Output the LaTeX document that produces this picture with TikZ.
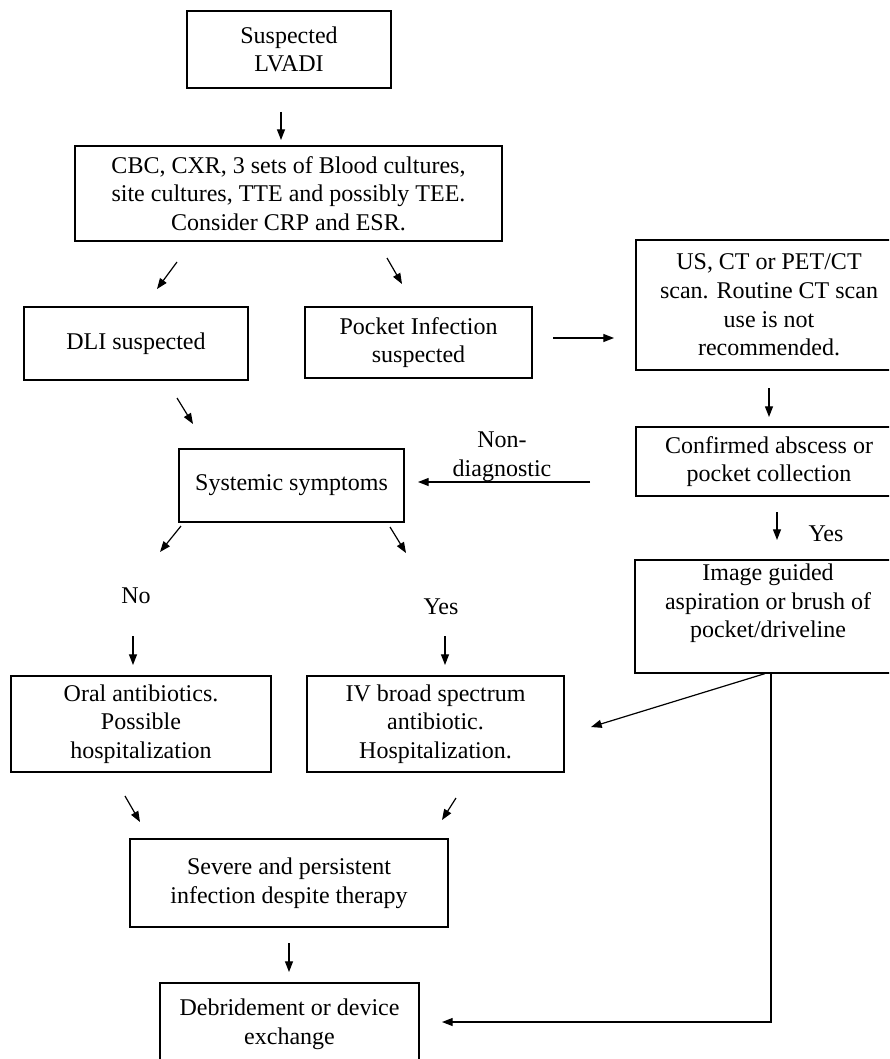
\documentclass[tikz,border=0pt]{standalone}
\usepackage{fontspec}
\setmainfont{Liberation Serif}
\usetikzlibrary{arrows.meta}

\tikzset{every picture/.style={line width=0.9pt}}
\tikzset{
  box/.style={draw, align=center, inner sep=0pt, font=\fontsize{18}{21.5}\selectfont},
  lbl/.style={align=center, inner sep=0pt, font=\fontsize{18}{21.5}\selectfont},
  arr/.style={-{Triangle[length=8pt,width=6pt]}},
}

\begin{document}
\begin{tikzpicture}[x=0.75pt,y=0.75pt,yscale=-1,xscale=1]
\useasboundingbox (0,0) rectangle (889,1059);
\clip (0,0) rectangle (889,1059);

%Boxes, left part
\node[box, minimum width=153pt, minimum height=57.75pt] (lvadi) at (289,49.5) {Suspected\\LVADI};
\node[box, minimum width=320.25pt, minimum height=71.25pt] (cbc) at (288.5,193.5) {CBC, CXR, 3 sets of Blood cultures,\\site cultures, TTE and possibly TEE.\\Consider CRP and ESR.};
\node[box, minimum width=168pt, minimum height=54.75pt] (dli) at (136,343.5) {DLI suspected};
\node[box, minimum width=170.25pt, minimum height=53.25pt] (pocket) at (418.5,342.5) {Pocket Infection\\suspected};
\node[box, minimum width=168.75pt, minimum height=54.75pt] (systemic) at (291.5,485.5) {Systemic symptoms};
\node[box, minimum width=195pt, minimum height=72pt] (oral) at (141,724) {Oral antibiotics.\\Possible\\hospitalization};
\node[box, minimum width=192.75pt, minimum height=72pt] (iv) at (435.5,724) {IV broad spectrum\\antibiotic.\\Hospitalization.};
\node[box, minimum width=238.5pt, minimum height=66pt] (severe) at (289,883) {Severe and persistent\\infection despite therapy};
\node[box, minimum width=194.25pt, minimum height=61.5pt] (debr) at (289.5,1024) {Debridement or device\\exchange};

%Boxes, right column
\node[box, minimum width=199.5pt, minimum height=97.5pt] (imaging) at (769,305) {US, CT or PET/CT\\scan. Routine CT scan\\use is not\\recommended.};
\node[box, minimum width=199.5pt, minimum height=51.75pt] (abscess) at (769,461.5) {Confirmed abscess or\\pocket collection};
\node[box, minimum width=199.5pt, minimum height=84.75pt] (img) at (768,616.5) {};
\node[lbl, anchor=north] (imgtxt) at ([yshift=3pt]img.north) {Image guided\\aspiration or brush of\\pocket/driveline};

% Text Node
\node[lbl] (nondiag) at (502,457) {Non-\\diagnostic};
\node[lbl] (yesA) at (826,534) {Yes};
\node[lbl] (no) at (136,596) {No};
\node[lbl] (yesB) at (441,607) {Yes};

%Arrow ends
\coordinate (lvadi-o) at (281,112);   \coordinate (cbc-i) at (281,140);
\coordinate (cbc-l) at (177,262);     \coordinate (dli-i) at (157,289);
\coordinate (cbc-r) at (387,258);     \coordinate (pocket-i) at (402,284);
\coordinate (pocket-o) at (553,338);  \coordinate (imaging-i) at (614,338);
\coordinate (dli-o) at (177,398);     \coordinate (systemic-i) at (193,424);
\coordinate (imaging-o) at (769,388); \coordinate (abscess-i) at (769,417);
\coordinate (abscess-l) at (590,482); \coordinate (systemic-r) at (418,482);
\coordinate (abscess-o) at (777,512); \coordinate (img-i) at (777,540);
\coordinate (systemic-l) at (181,526);\coordinate (no-i) at (160,552);
\coordinate (systemic-o) at (390,527);\coordinate (yesB-i) at (406,553);
\coordinate (no-o) at (133,636);      \coordinate (oral-i) at (133,665);
\coordinate (yesB-o) at (445,636);    \coordinate (iv-i) at (445,665);
\coordinate (iv-r) at (591,727);
\coordinate (oral-o) at (125,796);    \coordinate (severe-l) at (140,822);
\coordinate (iv-o) at (456,798);      \coordinate (severe-r) at (442,820);
\coordinate (severe-o) at (289,943);  \coordinate (debr-i) at (289,972);
\coordinate (debr-r) at (442,1022);

%Connectors
\draw[arr] (lvadi-o) -- (cbc-i);
\draw[arr] (cbc-l) -- (dli-i);
\draw[arr] (cbc-r) -- (pocket-i);
\draw[arr] (pocket-o) -- (imaging-i);
\draw[arr] (dli-o) -- (systemic-i);
\draw[arr] (imaging-o) -- (abscess-i);
\draw[arr] (abscess-l) -- (systemic-r);
\draw[arr] (abscess-o) -- (img-i);
\draw[arr] (systemic-l) -- (no-i);
\draw[arr] (systemic-o) -- (yesB-i);
\draw[arr] (no-o) -- (oral-i);
\draw[arr] (yesB-o) -- (iv-i);
\draw[arr] ([xshift=-2.25pt]img.south) -- (iv-r);
\draw[arr] ([xshift=2.25pt]img.south) |- (debr-r);
\draw[arr] (oral-o) -- (severe-l);
\draw[arr] (iv-o) -- (severe-r);
\draw[arr] (severe-o) -- (debr-i);

\end{tikzpicture}
\end{document}
